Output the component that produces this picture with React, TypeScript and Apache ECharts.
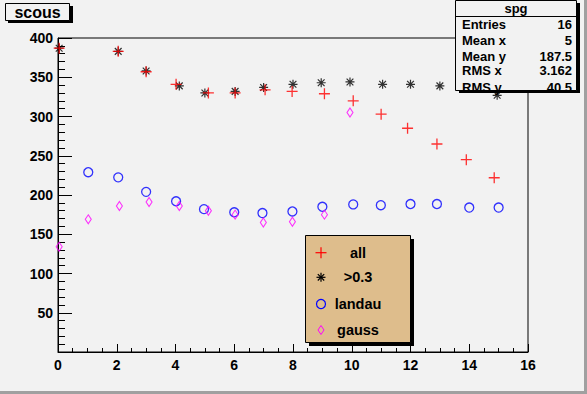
import React, { useEffect, useRef } from "react";
import * as echarts from "echarts";

const xAll = [0.04, 2.05, 3.0, 4.02, 5.12, 6.03, 7.05, 7.97, 9.07, 10.05, 11.0, 11.9, 12.9, 13.9, 14.85];
const yAll = [387, 383, 357, 341, 330, 330, 334, 332, 329, 320, 303, 285, 265, 245, 222];

const xStar = [0.04, 2.05, 3.0, 4.13, 5.0, 6.03, 7.0, 8.0, 8.96, 9.94, 11.05, 12.0, 13.0, 14.0, 14.95];
const yStar = [387, 383, 358, 339, 330, 332, 337, 341, 343, 344, 341, 341, 339, 338, 327];

const xLandau = [1.03, 2.05, 3.0, 4.02, 4.97, 6.0, 6.96, 7.98, 9.0, 10.05, 10.99, 12.0, 12.9, 14.0, 15.0];
const yLandau = [229, 222.5, 204, 192, 182, 178, 177, 179, 185, 188, 187, 188.5, 188.5, 184, 184];

const xGauss = [0.04, 1.03, 2.09, 3.1, 4.13, 5.12, 6.03, 6.99, 7.98, 9.07, 9.94];
const yGauss = [134, 169, 186, 191, 186, 180, 175, 165, 166, 175, 305];

const legendNames = ["all", ">0.3", "landau", "gauss"];
const statLabels = ["Entries", "Mean x", "Mean y", "RMS x", "RMS y"];
const statValues = ["16", "5", "187.5", "3.162", "40.5"];
const titleText = "scous";
const statsTitle = "spg";

const FONT = "'Liberation Sans', Arial, Helvetica, sans-serif";

const zip = (xs: number[], ys: number[]) => xs.map((x, i) => [x, ys[i]]);

export default function App() {
  const ref = useRef<HTMLDivElement>(null);
  useEffect(() => {
    if (!ref.current) return;
    const chart = echarts.init(ref.current, null, { renderer: "svg" });

    const txt = (text: string, x: number, y: number, size: number, align = "left", fill = "#000") => ({
      type: "text",
      z: 101,
      style: { text, x, y, fill, font: `bold ${size}px ${FONT}`, textAlign: align, textVerticalAlign: "middle" },
    });

    const legendRows = [252.7, 277.3, 304, 330];
    const mx = 321;
    const graphic: any[] = [
      // canvas border
      { type: "rect", z: 100, shape: { x: 584, y: 0, width: 3, height: 394 }, style: { fill: "#a0a0a0" } },
      { type: "rect", z: 100, shape: { x: 0, y: 391, width: 587, height: 3 }, style: { fill: "#a0a0a0" } },
      // title box
      { type: "rect", z: 100, shape: { x: 8, y: 6, width: 65, height: 17 }, style: { fill: "#000" } },
      { type: "rect", z: 100, shape: { x: 5.5, y: 3.5, width: 64, height: 17 }, style: { fill: "#f2f2f2", stroke: "#000", lineWidth: 1 } },
      txt(titleText, 37.5, 12.5, 16, "center"),
      // stats box
      { type: "rect", z: 100, shape: { x: 459, y: 3, width: 121, height: 90 }, style: { fill: "#000" } },
      { type: "rect", z: 100, shape: { x: 455.5, y: 0.5, width: 121, height: 90 }, style: { fill: "#f2f2f2", stroke: "#000", lineWidth: 1 } },
      { type: "line", z: 101, shape: { x1: 455.5, y1: 16.5, x2: 576.5, y2: 16.5 }, style: { stroke: "#000", lineWidth: 1 } },
      txt(statsTitle, 516, 8.5, 13, "center"),
      // legend box
      { type: "rect", z: 100, shape: { x: 309, y: 239, width: 105, height: 107 }, style: { fill: "#000" } },
      { type: "rect", z: 100, shape: { x: 305.5, y: 235.5, width: 105, height: 107 }, style: { fill: "#debd8c", stroke: "#000", lineWidth: 1 } },
      // legend markers
      { type: "line", z: 101, shape: { x1: mx - 5.5, y1: legendRows[0], x2: mx + 5.5, y2: legendRows[0] }, style: { stroke: "#ff0000", lineWidth: 1.2 } },
      { type: "line", z: 101, shape: { x1: mx, y1: legendRows[0] - 5.5, x2: mx, y2: legendRows[0] + 5.5 }, style: { stroke: "#ff0000", lineWidth: 1.2 } },
      { type: "line", z: 101, shape: { x1: mx - 4.5, y1: legendRows[1], x2: mx + 4.5, y2: legendRows[1] }, style: { stroke: "#000", lineWidth: 1.2 } },
      { type: "line", z: 101, shape: { x1: mx, y1: legendRows[1] - 4.5, x2: mx, y2: legendRows[1] + 4.5 }, style: { stroke: "#000", lineWidth: 1.2 } },
      { type: "line", z: 101, shape: { x1: mx - 3.2, y1: legendRows[1] - 3.2, x2: mx + 3.2, y2: legendRows[1] + 3.2 }, style: { stroke: "#000", lineWidth: 1.2 } },
      { type: "line", z: 101, shape: { x1: mx - 3.2, y1: legendRows[1] + 3.2, x2: mx + 3.2, y2: legendRows[1] - 3.2 }, style: { stroke: "#000", lineWidth: 1.2 } },
      { type: "circle", z: 101, shape: { cx: mx, cy: legendRows[2], r: 4.5 }, style: { fill: "none", stroke: "#0000ff", lineWidth: 1.2 } },
      {
        type: "polygon", z: 101,
        shape: { points: [[mx, legendRows[3] - 4.5], [mx + 3, legendRows[3]], [mx, legendRows[3] + 4.5], [mx - 3, legendRows[3]]] },
        style: { fill: "none", stroke: "#ff00ff", lineWidth: 1 },
      },
    ];
    legendNames.forEach((n, i) => graphic.push(txt(n, 358, legendRows[i], 14.5, "center")));
    const statRows = [24, 40.7, 56.7, 70.7, 87];
    statLabels.forEach((l, i) => {
      graphic.push(txt(l, 462, statRows[i], 13, "left"));
      graphic.push(txt(statValues[i], 572, statRows[i], 13, "right"));
    });

    const pathSym = (p: string) => "path://" + p;
    chart.setOption({
      animation: false,
      backgroundColor: "#f2f2f2",
      grid: { left: 58, right: 59, top: 38, bottom: 42, show: true, borderColor: "#000", borderWidth: 1, backgroundColor: "transparent" },
      xAxis: {
        type: "value", min: 0, max: 16, interval: 2,
        axisLine: { show: true, onZero: false, lineStyle: { color: "#000", width: 1 } },
        axisTick: { show: true, inside: true, length: 8, lineStyle: { color: "#000" } },
        minorTick: { show: true, splitNumber: 4, length: 4, lineStyle: { color: "#000" } },
        splitLine: { show: false },
        axisLabel: { color: "#000", fontFamily: FONT, fontWeight: "bold", fontSize: 14, margin: 6 },
      },
      yAxis: {
        type: "value", min: 0, max: 400, interval: 50,
        axisLine: { show: true, onZero: false, lineStyle: { color: "#000", width: 1 } },
        axisTick: { show: true, inside: true, length: 14, lineStyle: { color: "#000" } },
        minorTick: { show: true, splitNumber: 5, length: 7, lineStyle: { color: "#000" } },
        splitLine: { show: false },
        axisLabel: {
          color: "#000", fontFamily: FONT, fontWeight: "bold", fontSize: 14, margin: 5,
          formatter: (v: number) => (v === 0 ? "" : String(v)),
        },
      },
      graphic,
      series: [
        {
          name: ">0.3", type: "scatter", data: zip(xStar, yStar),
          symbol: pathSym("M-4,0L4,0M0,-4L0,4M-3,-3L3,3M-3,3L3,-3"), symbolSize: 9,
          itemStyle: { color: "none", borderColor: "#000", borderWidth: 1.2 },
        },
        {
          name: "all", type: "scatter", data: zip(xAll, yAll),
          symbol: pathSym("M-5,0L5,0M0,-5L0,5"), symbolSize: 11,
          itemStyle: { color: "none", borderColor: "#ff0000", borderWidth: 1.3 },
        },
        {
          name: "landau", type: "scatter", data: zip(xLandau, yLandau),
          symbol: "circle", symbolSize: 9,
          itemStyle: { color: "none", borderColor: "#0000ff", borderWidth: 1.3 },
        },
        {
          name: "gauss", type: "scatter", data: zip(xGauss, yGauss),
          symbol: "diamond", symbolSize: [6, 9],
          itemStyle: { color: "none", borderColor: "#ff00ff", borderWidth: 1.1 },
        },
      ],
    });
    return () => chart.dispose();
  }, []);
  return <div ref={ref} style={{ position: "fixed", left: 0, top: 0, width: 587, height: 394 }} />;
}
